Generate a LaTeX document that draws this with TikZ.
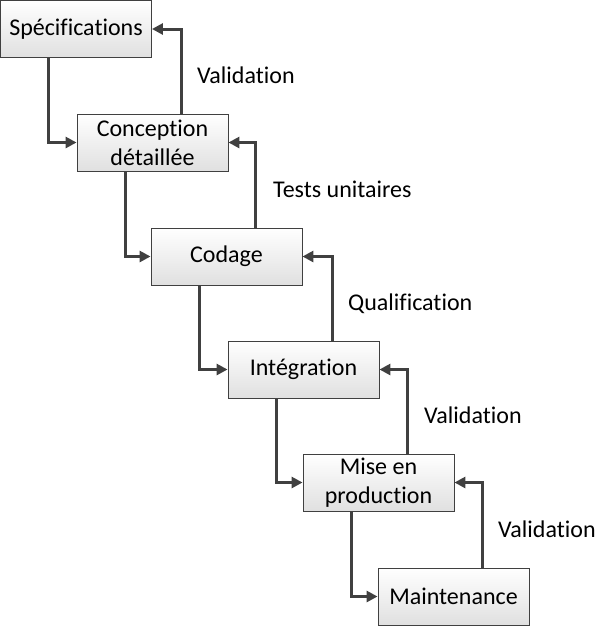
\documentclass[tikz,border=0pt]{standalone}
\usepackage{fontspec}
\setmainfont[Ligatures={NoCommon},RawFeature={-liga;-clig}]{Carlito}
\usetikzlibrary{arrows.meta}
\definecolor{linegray}{HTML}{404040}
\definecolor{boxgray}{HTML}{E0E0E0}
\begin{document}
\begin{tikzpicture}[x=1pt,y=-1pt,
  box/.style={draw=linegray, line width=0.9pt, top color=white, bottom color=boxgray,
    minimum width=151pt, minimum height=57pt, inner sep=0pt, align=center,
    font=\fontsize{24}{29}\selectfont},
  arr/.style={draw=linegray, line width=3pt, -{Triangle[length=11pt,width=11pt]}},
  lab/.style={anchor=base west, inner sep=0pt, font=\fontsize{24}{29}\selectfont}]
\useasboundingbox (0,0) rectangle (599,627);
\node[box] (s)   at (76,29)      {Spécifications};
\node[box] (c)   at (152.5,142.5) {Conception\\détaillée};
\node[box] (cod) at (226.5,256.5) {Codage};
\node[box] (int) at (303.5,369.5) {Intégration};
\node[box] (mep) at (378.5,482.5) {Mise en\\production};
\node[box] (mnt) at (453.5,596.5) {Maintenance};
% down arrows
\draw[arr] ([xshift=-27.5pt]s.south) |- (c.west);
\draw[arr] ([xshift=-27.5pt]c.south) |- (cod.west);
\draw[arr] ([xshift=-27.5pt]cod.south) |- (int.west);
\draw[arr] ([xshift=-27.5pt]int.south) |- (mep.west);
\draw[arr] ([xshift=-27.5pt]mep.south) |- (mnt.west);
% feedback arrows
\draw[arr] ([xshift=28.5pt]c.north) |- (s.east);
\draw[arr] ([xshift=28.5pt]cod.north) |- (c.east);
\draw[arr] ([xshift=28.5pt]int.north) |- (cod.east);
\draw[arr] ([xshift=28.5pt]mep.north) |- (int.east);
\draw[arr] ([xshift=28.5pt]mnt.north) |- (mep.east);
% labels
\node[lab] (l1) at (197,83)  {Validation};
\node[lab] (l2) at (273,197) {Tests unitaires};
\node[lab] (l3) at (348,310) {Qualification};
\node[lab] (l4) at (424,423) {Validation};
\node[lab] (l5) at (498,537) {Validation};
\end{tikzpicture}
\end{document}
